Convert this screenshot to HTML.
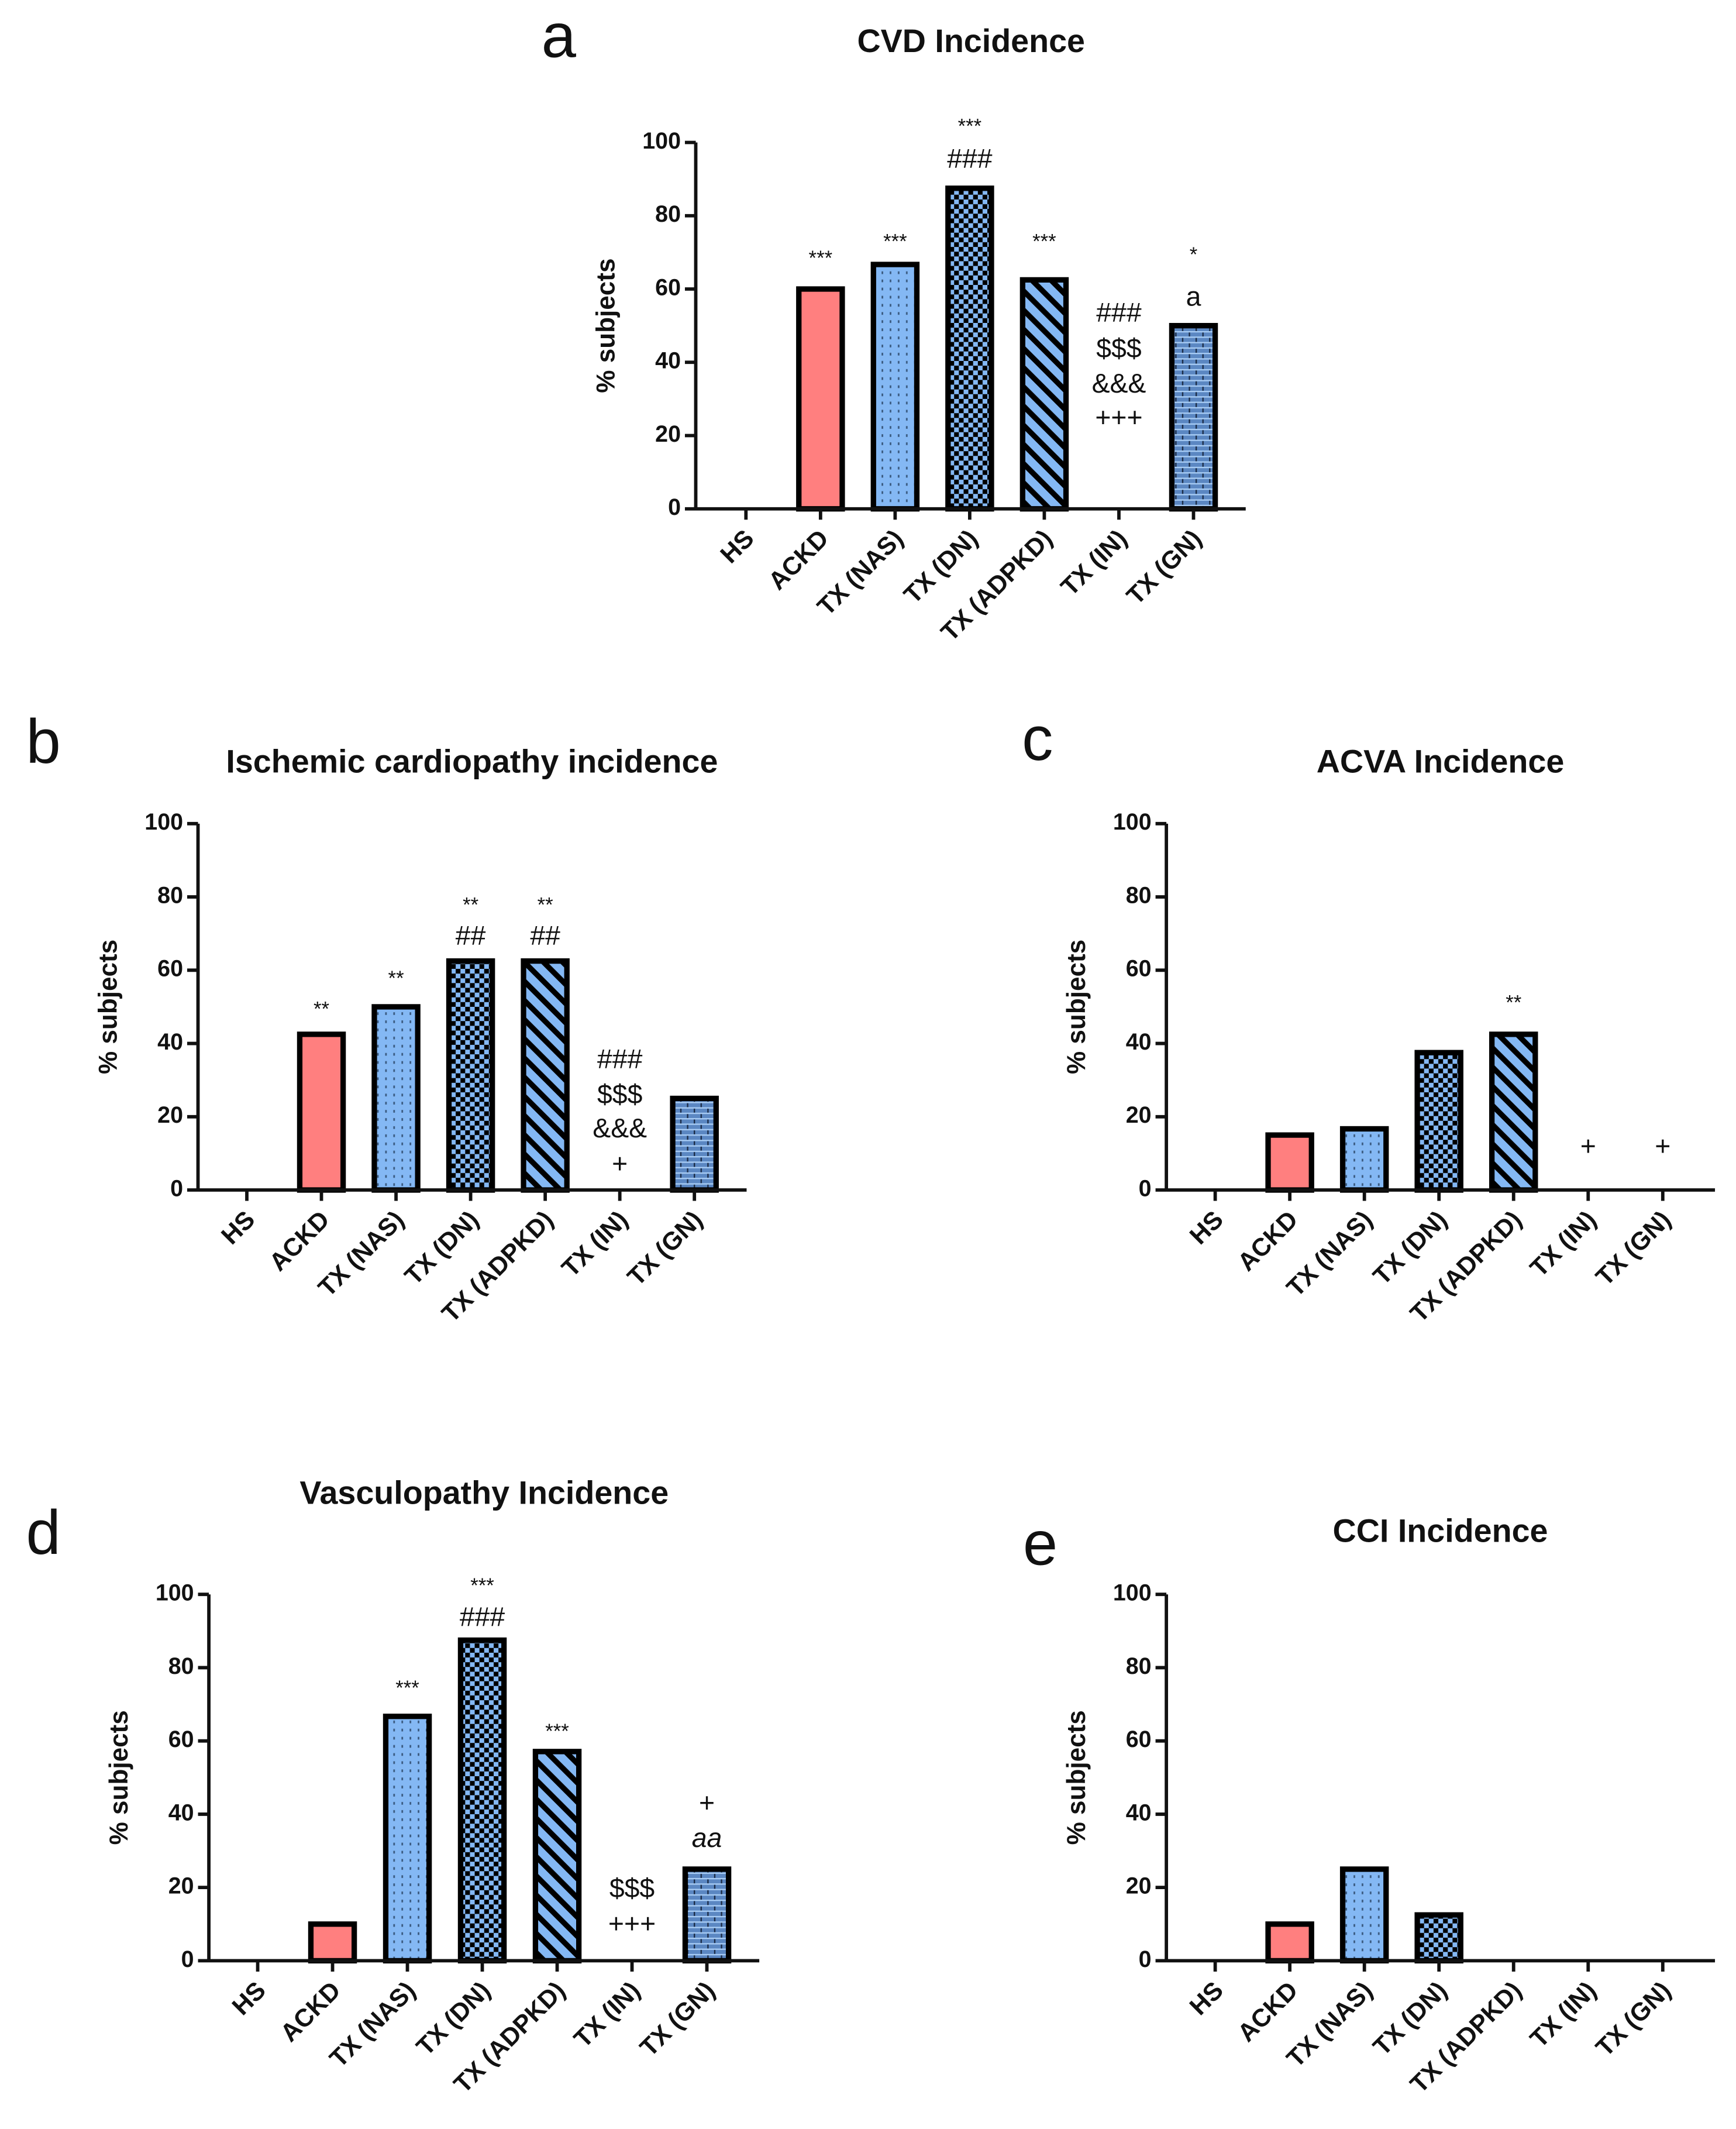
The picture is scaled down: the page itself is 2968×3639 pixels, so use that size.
<!DOCTYPE html>
<html><head><meta charset="utf-8"><style>
html,body{margin:0;padding:0;background:#fff}
svg{display:block}
text{font-family:"Liberation Sans",Arial,sans-serif;fill:#111}
</style></head><body>
<svg id="fig" xmlns="http://www.w3.org/2000/svg" width="2968" height="3639" viewBox="0 0 1280 1569" preserveAspectRatio="none">
<defs>
<pattern id="pDots" width="6" height="6" patternUnits="userSpaceOnUse"><rect width="6" height="6" fill="#84b8f4"/><rect x="2" y="2" width="1.2" height="2" fill="#3a5a80"/></pattern>
<pattern id="pCheck" width="7" height="7" patternUnits="userSpaceOnUse"><rect width="7" height="7" fill="#84b8f4"/><rect width="3.5" height="3.5" fill="#000"/><rect x="3.5" y="3.5" width="3.5" height="3.5" fill="#000"/></pattern>
<pattern id="pStripe" width="10" height="10" patternUnits="userSpaceOnUse" patternTransform="rotate(-45)"><rect width="10" height="10" fill="#84b8f4"/><rect x="0" width="4" height="10" fill="#000"/></pattern>
<pattern id="pBrick" width="10" height="8" patternUnits="userSpaceOnUse"><rect width="10" height="8" fill="#5b87c2"/><line x1="0" y1="0.5" x2="10" y2="0.5" stroke="#a9cdf5" stroke-width="1"/><line x1="0" y1="4.5" x2="10" y2="4.5" stroke="#a9cdf5" stroke-width="1"/><line x1="2" y1="1" x2="2" y2="4" stroke="#1a2a44" stroke-width="1"/><line x1="7" y1="5" x2="7" y2="8" stroke="#1a2a44" stroke-width="1"/></pattern>
</defs>
</svg>
<script>
const categories = ["HS","ACKD","TX (NAS)","TX (DN)","TX (ADPKD)","TX (IN)","TX (GN)"];
const fills = ["#fff","#ff7f7f","url(#pDots)","url(#pCheck)","url(#pStripe)","#fff","url(#pBrick)"];
const yTicks = [0,20,40,60,80,100];
const valuesA = [0,60,66.7,87.5,62.5,0,50];
const valuesB = [0,42.5,50,62.5,62.5,0,25];
const valuesC = [0,15,16.7,37.5,42.5,0,0];
const valuesD = [0,10,66.7,87.5,57.1,0,25];
const valuesE = [0,10,25,12.5,0,0,0];
// annotations: [category index, data-y, text]
const annotA = [[1,68,"***"],[2,72.6,"***"],[3,104,"***"],[3,95,"###"],[4,72.6,"***"],[5,53,"###"],[5,43.3,"$$$"],[5,33.7,"&&&"],[5,24.4,"+++"],[6,69,"*"],[6,57.4,"a"]];
const annotB = [[1,49,"**"],[2,57.4,"**"],[3,77.4,"**"],[3,68.9,"##"],[4,77.4,"**"],[4,68.9,"##"],[5,35.2,"###"],[5,25.6,"$$$"],[5,16.3,"&&&"],[5,6.7,"+"]];
const annotC = [[4,50.7,"**"],[5,11.5,"+"],[6,11.5,"+"]];
const annotD = [[2,74,"***"],[3,102,"***"],[3,93.3,"###"],[4,62.2,"***"],[5,19.3,"$$$"],[5,9.6,"+++"],[6,42.6,"+"],[6,33,"aa"]];
const annotE = [];

const svg = document.getElementById('fig');
const NS = "http://www.w3.org/2000/svg";
function mk(tag, attrs, parent){const e=document.createElementNS(NS,tag);for(const k in attrs)e.setAttribute(k,attrs[k]);(parent||svg).appendChild(e);return e;}
function txt(s, attrs, parent){const e=mk('text',attrs,parent);e.textContent=s;return e;}

function panel(id, letter, lx, ly, title, tx, ty, ax, ay0, ay100, x0, step, values, annots){
  const g = mk('g',{});
  
  
  const yS = v => ay0 - (ay0-ay100)*v/100;
  const xS = i => x0 + i*step;
  const l = txt(letter,{x:lx,y:ly,'font-size':46,'text-anchor':'middle','dominant-baseline':'middle'},g);
  
  
  const t = txt(title,{x:tx,y:ty,'font-size':24,'font-weight':'bold','text-anchor':'middle','dominant-baseline':'middle'},g);
  
  
  const yt = txt('% subjects',{x:0,y:0,'font-size':19,'font-weight':'bold','text-anchor':'middle',transform:`translate(${ax-60},${(ay0+ay100)/2}) rotate(-90)`},g);
  
  
  values.forEach((v,i)=>{
    if(v<=0) return;
    const r = mk('rect',{x:xS(i)-16,y:yS(v),width:32,height:ay0-yS(v),fill:fills[i],stroke:'#000','stroke-width':4},g);
    
    
  });
  const ya = mk('line',{x1:ax,y1:ay0+1,x2:ax,y2:ay100,stroke:'#111','stroke-width':2.5},g);
  
  
  yTicks.forEach(v=>{
    mk('line',{x1:ax-8,y1:yS(v),x2:ax,y2:yS(v),stroke:'#111','stroke-width':2.5},g);
    const tl = txt(String(v),{x:ax-11,y:yS(v),'font-size':17,'font-weight':'bold','text-anchor':'end','dominant-baseline':'middle'},g);
    
    
  });
  const xEnd = xS(6)+step*0.7;
  const xa = mk('line',{x1:ax,y1:ay0,x2:xEnd,y2:ay0,stroke:'#111','stroke-width':2.5},g);
  
  
  categories.forEach((c,i)=>{
    mk('line',{x1:xS(i),y1:ay0,x2:xS(i),y2:ay0+8,stroke:'#111','stroke-width':2.5},g);
    const cx = xS(i)+7, cy = ay0+23;
    const tl = txt(c,{x:cx,y:cy,'font-size':18.5,'font-weight':'bold','text-anchor':'end',transform:`rotate(-45 ${cx} ${cy})`},g);
    
    
  });
  annots.forEach(a=>{
    const isStar = a[2].indexOf('*')>=0;
    const at = txt(a[2],{x:xS(a[0]),y:yS(a[1]),'font-size':isStar?15:20,'text-anchor':'middle','dominant-baseline':'middle','font-style':a[2]==='aa'?'italic':'normal'},g);
    
    
  });
}
panel('a','a',412,30,'CVD Incidence',716,32,513,375,105,550,55,valuesA,annotA);
panel('b','b',32,550,'Ischemic cardiopathy incidence',348,563,146,877,607,182,55,valuesB,annotB);
panel('c','c',765,548,'ACVA Incidence',1062,563,860,877,607,896,55,valuesC,annotC);
panel('d','d',32,1133,'Vasculopathy Incidence',357,1102,154,1445,1175,190,55.2,valuesD,annotD);
panel('e','e',767,1141,'CCI Incidence',1062,1130,860,1445,1175,896,55,valuesE,annotE);
</script>
</body></html>
